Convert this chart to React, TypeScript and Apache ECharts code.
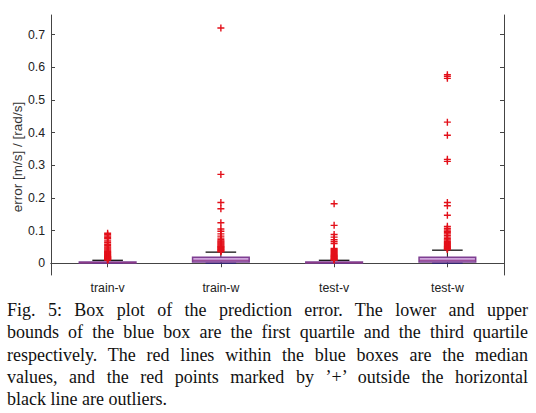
import React, { useEffect, useRef } from "react";
import * as echarts from "echarts";

const categories = ["train-v", "train-w", "test-v", "test-w"];
const lowerWhisker = [0, 0, 0, 0];
const q1 = [0.001, 0.004, 0.001, 0.004];
const median = [0.002, 0.009, 0.002, 0.009];
const q3 = [0.004, 0.018, 0.004, 0.018];
const upperWhisker = [0.009, 0.034, 0.009, 0.04];

const trainVOutliers = [0.092, 0.087, 0.083, 0.079, 0.075, 0.068, 0.063, 0.058, 0.054, 0.05, 0.047, 0.044, 0.041, 0.038, 0.036, 0.034, 0.032, 0.03, 0.028, 0.026, 0.024, 0.022, 0.021, 0.02, 0.019, 0.018, 0.017, 0.016, 0.015, 0.014, 0.013, 0.012, 0.011, 0.01];
const trainWOutliers = [0.72, 0.272, 0.186, 0.167, 0.124, 0.105, 0.098, 0.09, 0.083, 0.077, 0.072, 0.068, 0.065, 0.062, 0.059, 0.056, 0.053, 0.051, 0.049, 0.047, 0.045, 0.043, 0.041, 0.039, 0.037, 0.035];
const testVOutliers = [0.182, 0.116, 0.088, 0.08, 0.072, 0.066, 0.06, 0.045, 0.042, 0.039, 0.036, 0.033, 0.03, 0.027, 0.025, 0.023, 0.021, 0.019, 0.017, 0.015, 0.013, 0.011, 0.01];
const testWOutliers = [0.577, 0.572, 0.566, 0.432, 0.392, 0.318, 0.312, 0.186, 0.176, 0.147, 0.113, 0.107, 0.102, 0.098, 0.094, 0.09, 0.085, 0.08, 0.075, 0.071, 0.067, 0.064, 0.061, 0.058, 0.055, 0.052, 0.05, 0.048, 0.046, 0.044, 0.042];

const yTicks = [0, 0.1, 0.2, 0.3, 0.4, 0.5, 0.6, 0.7];
const yTickLabels = ["0", "0.1", "0.2", "0.3", "0.4", "0.5", "0.6", "0.7"];
const yAxisTitle = "error [m/s] / [rad/s]";

const captionLines = [
  "Fig. 5: Box plot of the prediction error. The lower and upper",
  "bounds of the blue box are the first quartile and the third quartile",
  "respectively. The red lines within the blue boxes are the median",
  "values, and the red points marked by \u2019+\u2019 outside the horizontal",
  "black line are outliers.",
];

const CROSS = "path://M-0.2,-1H0.2V-0.2H1V0.2H0.2V1H-0.2V0.2H-1V-0.2H-0.2Z";

export default function App() {
  const ref = useRef<HTMLDivElement>(null);

  useEffect(() => {
    if (!ref.current) return;
    const chart = echarts.init(ref.current, null, { renderer: "svg" });
    const boxData = categories.map((_, i) => [i, lowerWhisker[i], q1[i], median[i], q3[i], upperWhisker[i]]);
    const outlierSets = [trainVOutliers, trainWOutliers, testVOutliers, testWOutliers];
    const outlierData: number[][] = [];
    outlierSets.forEach((arr, i) => arr.forEach((v) => outlierData.push([i, v])));

    const font = "Liberation Sans";
    const axisColor = "#444";

    chart.setOption({
      animation: false,
      backgroundColor: "#fff",
      grid: { left: 51, right: 32, top: 15, bottom: 138 },
      graphic: [
        {
          type: "text",
          x: 17,
          y: 157,
          rotation: Math.PI / 2,
          style: {
            text: yAxisTitle,
            fill: "#333",
            fontSize: 13.5,
            fontFamily: font,
            align: "center",
            verticalAlign: "middle",
          },
        },
      ],
      xAxis: [
        {
          type: "category",
          data: categories,
          position: "bottom",
          axisLine: { show: true, lineStyle: { color: axisColor, width: 1 } },
          axisTick: { show: true, inside: true, alignWithLabel: true, length: 4, lineStyle: { color: axisColor } },
          axisLabel: { color: "#222", fontSize: 12.3, fontFamily: font, margin: 7 },
          splitLine: { show: false },
        },
        {
          type: "category",
          data: categories,
          position: "top",
          axisLine: { show: true, lineStyle: { color: axisColor, width: 1 } },
          axisTick: { show: true, inside: true, alignWithLabel: true, length: 4, lineStyle: { color: axisColor } },
          axisLabel: { show: false },
          splitLine: { show: false },
        },
      ],
      yAxis: [
        {
          type: "value",
          min: -0.036,
          max: 0.76,
          position: "left",
          axisLine: { show: true, lineStyle: { color: axisColor, width: 1 } },
          axisTick: { show: true, inside: true, length: 4, customValues: yTicks, lineStyle: { color: axisColor } },
          axisLabel: {
            color: "#222",
            fontSize: 12.3,
            fontFamily: font,
            margin: 6,
            customValues: yTicks,
            formatter: (v: number) => {
              const i = yTicks.findIndex((t) => Math.abs(t - v) < 1e-9);
              return i >= 0 ? yTickLabels[i] : "";
            },
          },
          splitLine: { show: false },
        },
        {
          type: "value",
          min: -0.036,
          max: 0.76,
          position: "right",
          axisLine: { show: true, lineStyle: { color: axisColor, width: 1 } },
          axisTick: { show: true, inside: true, length: 4, customValues: yTicks, lineStyle: { color: axisColor } },
          axisLabel: { show: false },
          splitLine: { show: false },
        },
      ],
      series: [
        {
          type: "custom",
          xAxisIndex: 0,
          yAxisIndex: 0,
          data: boxData,
          encode: { x: 0, y: [1, 2, 3, 4, 5] },
          z: 2,
          renderItem: (params: any, api: any) => {
            const idx = api.value(0);
            const band = api.size([1, 0])[0];
            const boxW = band * 0.5;
            const capW = band * 0.27;
            const x = api.coord([idx, 0])[0];
            const yLow = api.coord([idx, api.value(1)])[1];
            const yQ1 = api.coord([idx, api.value(2)])[1];
            const yMed = api.coord([idx, api.value(3)])[1];
            const yQ3 = api.coord([idx, api.value(4)])[1];
            const yHigh = api.coord([idx, api.value(5)])[1];
            return {
              type: "group",
              children: [
                {
                  type: "line",
                  shape: { x1: x, y1: yQ3, x2: x, y2: yHigh },
                  style: { stroke: "#111", lineWidth: 1 },
                },
                {
                  type: "line",
                  shape: { x1: x - capW / 2, y1: yHigh, x2: x + capW / 2, y2: yHigh },
                  style: { stroke: "#111", lineWidth: 1.3 },
                },
                {
                  type: "line",
                  shape: { x1: x, y1: yQ1, x2: x, y2: yLow },
                  style: { stroke: "#2f2a6e", lineWidth: 1 },
                },
                {
                  type: "line",
                  shape: { x1: x - capW / 2, y1: yLow, x2: x + capW / 2, y2: yLow },
                  style: { stroke: "#2f2a6e", lineWidth: 1.5 },
                },
                {
                  type: "rect",
                  shape: { x: x - boxW / 2, y: yQ3, width: boxW, height: Math.max(yQ1 - yQ3, 1) },
                  style: { fill: "#cfa6dc", stroke: "#7e3f92", lineWidth: 1.5 },
                },
                {
                  type: "line",
                  shape: { x1: x - boxW / 2, y1: yMed, x2: x + boxW / 2, y2: yMed },
                  style: { stroke: "#8e3a8a", lineWidth: 1 },
                },
              ],
            };
          },
        },
        {
          type: "scatter",
          xAxisIndex: 0,
          yAxisIndex: 0,
          data: outlierData,
          symbol: CROSS,
          symbolSize: 7,
          itemStyle: { color: "#e3101a", opacity: 1 },
          z: 5,
        },
      ],
    });
    return () => chart.dispose();
  }, []);

  return (
    <div style={{ position: "fixed", left: 0, top: 0, width: 536, height: 413, background: "#fff", overflow: "hidden" }}>
      <div ref={ref} style={{ position: "absolute", left: 0, top: 0, width: 536, height: 413 }} />
      <div
        style={{
          position: "absolute",
          left: 7,
          top: 299,
          width: 521,
          fontFamily: "'Liberation Serif', 'DejaVu Serif', serif",
          fontSize: 18,
          lineHeight: "22.3px",
          color: "#111",
        }}
      >
        {captionLines.map((line, i) => (
          <div
            key={i}
            style={{
              textAlign: i === captionLines.length - 1 ? "left" : "justify",
              textAlignLast: i === captionLines.length - 1 ? "left" : "justify",
              whiteSpace: "nowrap",
            }}
          >
            {line}
          </div>
        ))}
      </div>
    </div>
  );
}
